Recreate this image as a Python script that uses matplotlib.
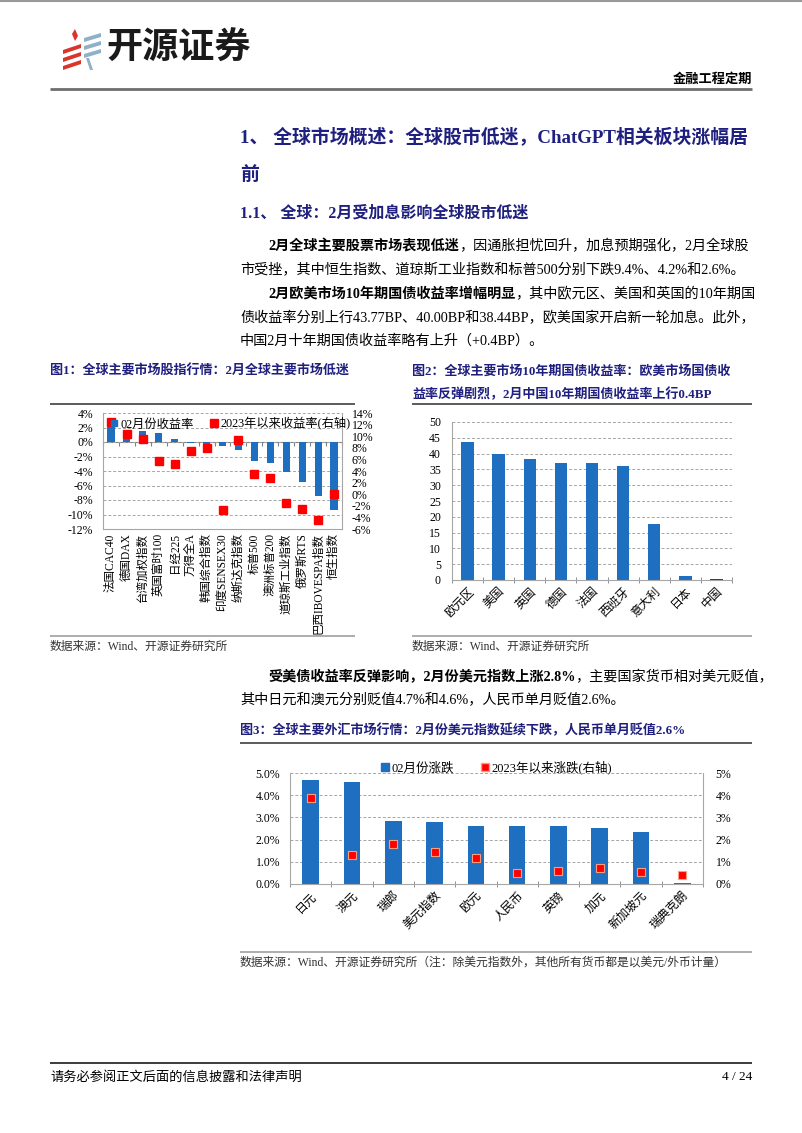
import numpy as np
import matplotlib
matplotlib.use('Agg')
import matplotlib.pyplot as plt
from matplotlib.lines import Line2D
from matplotlib.patches import Polygon
from matplotlib.ticker import FuncFormatter

plt.rcParams['font.family'] = ['Liberation Serif', 'Noto Sans CJK SC', 'DejaVu Sans']
plt.rcParams['axes.unicode_minus'] = False

W, H = 802, 1133
BLUE = '#1F6FC0'
RED = '#FF0000'
NAVY = '#1F1F7F'
GRID = '#A6A6A6'
SPINE = '#A6A6A6'

# 图1：全球主要市场股指
idx_names = ['法国CAC40', '德国DAX', '台湾加权指数', '英国富时100', '日经225', '万得全A',
             '韩国综合指数', '印度SENSEX30', '纳斯达克指数', '标普500', '澳洲标普200',
             '道琼斯工业指数', '俄罗斯RTS', '巴西IBOVESPA指数', '恒生指数']
idx_feb = [2.7, 1.6, 1.5, 1.3, 0.4, -0.1, -0.5, -0.55, -1.1, -2.6, -2.9, -4.2, -5.5, -7.5, -9.4]
idx_ytd = [12.4, 10.4, 9.6, 5.7, 5.2, 7.4, 7.9, -2.8, 9.4, 3.4, 2.8, -1.5, -2.5, -4.4, 0.0]

# 图2：10年期国债收益率变动(BP)
bond_names = ['欧元区', '美国', '英国', '德国', '法国', '西班牙', '意大利', '日本', '中国']
bond_bp = [43.77, 40.00, 38.44, 37.1, 37.1, 36.1, 17.8, 1.4, 0.4]

# 图3：主要外汇
fx_names = ['日元', '澳元', '瑞郎', '美元指数', '欧元', '人民币', '英镑', '加元', '新加坡元', '瑞典克朗']
fx_feb = [4.70, 4.61, 2.85, 2.81, 2.63, 2.61, 2.60, 2.54, 2.36, 0.06]
fx_ytd = [3.87, 1.30, 1.78, 1.45, 1.19, 0.51, 0.57, 0.73, 0.54, 0.42]


def rect(x0, y0, x1, y1):
    return [x0 / W, 1 - y1 / H, (x1 - x0) / W, (y1 - y0) / H]


fig = plt.figure(figsize=(W / 100, H / 100), dpi=100)
bg = fig.add_axes([0, 0, 1, 1], zorder=-1)
bg.set_xlim(0, W)
bg.set_ylim(H, 0)
bg.axis('off')
renderer = fig.canvas.get_renderer()


def txt(x, y, s, size, bold=False, color='black', ha='left'):
    return bg.text(x, y, s, fontsize=size, fontweight='bold' if bold else 'normal',
                   color=color, ha=ha, va='center')


def txt_after(t, y, s, size, bold=False, color='black'):
    bb = t.get_window_extent(renderer)
    x = bg.transData.inverted().transform((bb.x1, 0))[0]
    return txt(x, y, s, size, bold, color)


def hline(y, x0, x1, color='#7F7F7F', lw=1.0):
    bg.plot([x0, x1], [y, y], color=color, lw=lw, solid_capstyle='butt')


# 页眉
hline(1, 0, W, color='#9A9A9A', lw=1.5)
for k in range(3):
    yb = 46 + k * 8
    bg.add_patch(Polygon([(63, yb + 4), (81, yb - 2), (81, yb + 2), (63, yb + 8)],
                         closed=True, color='#D9352B', lw=0))
    yc = 34 + k * 8
    bg.add_patch(Polygon([(84, yc + 4), (101, yc - 1), (101, yc + 3), (84, yc + 8)],
                         closed=True, color='#8FB0C6', lw=0))
bg.add_patch(Polygon([(72, 34), (75, 29), (78, 36), (75, 41)], closed=True, color='#D9352B', lw=0))
bg.add_patch(Polygon([(86, 58), (89, 58), (93, 70), (90, 70)], closed=True, color='#8FB0C6', lw=0))
bg.text(106, 48, '开源证券', fontsize=26, fontweight='bold', color='#1A1A1A', ha='left', va='center',
        family=['Noto Sans CJK SC'])
txt(752, 79, '金融工程定期', 9.5, bold=True, ha='right')
hline(89, 50, 752, color='#6E6E6E', lw=2)

# 标题与正文
txt(240, 137, '1、 全球市场概述：全球股市低迷，ChatGPT相关板块涨幅居', 13.6, True, NAVY)
txt(240, 175, '前', 13.6, True, NAVY)
txt(240, 214, '1.1、 全球：2月受加息影响全球股市低迷', 11.5, True, NAVY)

BODY = 10.2
t = txt(268, 246, '2月全球主要股票市场表现低迷', BODY, True)
txt_after(t, 246, '，因通胀担忧回升，加息预期强化，2月全球股', BODY)
txt(240, 270, '市受挫，其中恒生指数、道琼斯工业指数和标普500分别下跌9.4%、4.2%和2.6%。', BODY)
t = txt(268, 294, '2月欧美市场10年期国债收益率增幅明显', BODY, True)
txt_after(t, 294, '，其中欧元区、美国和英国的10年期国', BODY)
txt(240, 318, '债收益率分别上行43.77BP、40.00BP和38.44BP，欧美国家开启新一轮加息。此外，', BODY)
txt(240, 341, '中国2月十年期国债收益率略有上升（+0.4BP）。', BODY)

CAP = 9.4
txt(50, 371, '图1：全球主要市场股指行情：2月全球主要市场低迷', CAP, True, NAVY)
txt(412, 371, '图2：全球主要市场10年期国债收益率：欧美市场国债收', CAP, True, NAVY)
txt(412, 394, '益率反弹剧烈，2月中国10年期国债收益率上行0.4BP', CAP, True, NAVY)
hline(404, 50, 355, color='#404040', lw=1.2)
hline(404, 412, 752, color='#404040', lw=1.2)
hline(636, 50, 355, color='#A0A0A0', lw=1.2)
hline(636, 412, 752, color='#A0A0A0', lw=1.2)
SRC = 8.5
txt(50, 647, '数据来源：Wind、开源证券研究所', SRC, color='#333333')
txt(412, 647, '数据来源：Wind、开源证券研究所', SRC, color='#333333')

t = txt(268, 677, '受美债收益率反弹影响，2月份美元指数上涨2.8%', BODY, True)
txt_after(t, 677, '，主要国家货币相对美元贬值，', BODY)
txt(240, 700, '其中日元和澳元分别贬值4.7%和4.6%，人民币单月贬值2.6%。', BODY)
txt(240, 730, '图3：全球主要外汇市场行情：2月份美元指数延续下跌，人民币单月贬值2.6%', CAP, True, NAVY)
hline(743, 240, 752, color='#404040', lw=1.2)
hline(952, 240, 752, color='#A0A0A0', lw=1.2)
txt(240, 963, '数据来源：Wind、开源证券研究所（注：除美元指数外，其他所有货币都是以美元/外币计量）', SRC,
    color='#333333')

hline(1063, 50, 752, color='#1A1A1A', lw=1.2)
txt(50, 1077, '请务必参阅正文后面的信息披露和法律声明', 9.5)
txt(752, 1077, '4 / 24', 9.5, ha='right')

pct0 = FuncFormatter(lambda v, p: f'{v:.0f}%')
pct1 = FuncFormatter(lambda v, p: f'{v:.1f}%')
TICK = 8.5
LAB = 8.3


def style_spines(ax, left=True, right=False, bottom=False):
    for side, vis in (('left', left), ('right', right), ('bottom', bottom), ('top', False)):
        ax.spines[side].set_visible(vis)
        ax.spines[side].set_color(SPINE)
        ax.spines[side].set_linewidth(0.8)


# ---- 图1 ----
ax1 = fig.add_axes(rect(103, 413, 342, 529))
x1 = np.arange(len(idx_names))
ax1.bar(x1, idx_feb, width=0.45, color=BLUE, zorder=2)
ax1.set_xlim(-0.5, len(idx_names) - 0.5)
ax1.set_ylim(-12, 4)
ax1.set_yticks(np.arange(-12, 5, 2))
ax1.yaxis.set_major_formatter(pct0)
ax1.set_xticks(x1)
ax1.set_xticklabels(idx_names, rotation=90, fontsize=LAB)
ax1.tick_params(axis='x', length=0, pad=3)
ax1.tick_params(axis='y', length=0, labelsize=TICK, pad=7)
ax1.grid(axis='y', ls=(0, (3, 2)), color=GRID, lw=0.7, zorder=0)
ax1.set_axisbelow(True)
style_spines(ax1, left=True, right=False, bottom=True)
zero_pos = (0 - (-12)) / 16
sec1 = ax1.secondary_xaxis(zero_pos)
sec1.set_xticks(np.arange(len(idx_names) + 1) - 0.5)
sec1.set_xticklabels([])
sec1.tick_params(length=3, direction='in', color='#808080')
sec1.spines['bottom'].set_color('#808080')
sec1.spines['top'].set_color('#808080')

ax1b = ax1.twinx()
ax1b.plot(x1, idx_ytd, 's', color=RED, ms=5.6, zorder=3)
ax1b.set_ylim(-6, 14)
ax1b.set_yticks(np.arange(-6, 15, 2))
ax1b.yaxis.set_major_formatter(pct0)
ax1b.tick_params(axis='y', length=0, labelsize=TICK, pad=7)
style_spines(ax1b, left=False, right=True)
h1 = [Line2D([], [], marker='s', color=BLUE, ls='none', ms=5),
      Line2D([], [], marker='s', color=RED, ls='none', ms=6)]
ax1b.legend(h1, ['02月份收益率', '2023年以来收益率(右轴)'], loc='upper left', bbox_to_anchor=(-0.015, 1.055),
            ncol=2, fontsize=8.8, frameon=False, handlelength=0.6, handletextpad=0.2, columnspacing=1.4)

# ---- 图2 ----
ax2 = fig.add_axes(rect(452, 422, 732, 580))
x2 = np.arange(len(bond_names))
bond_colors = [('#C00000' if n == '中国' else BLUE) for n in bond_names]
ax2.bar(x2, bond_bp, width=0.4, color=bond_colors, zorder=2)
ax2.set_xlim(-0.5, len(bond_names) - 0.5)
ax2.set_ylim(0, 50)
ax2.set_yticks(np.arange(0, 51, 5))
ax2.set_xticks(x2)
ax2.set_xticklabels(bond_names, rotation=45, ha='right', rotation_mode='anchor', fontsize=8.6)
ax2.set_xticks(np.arange(len(bond_names) + 1) - 0.5, minor=True)
ax2.tick_params(axis='x', which='major', length=0, pad=4)
ax2.tick_params(axis='x', which='minor', length=4, direction='inout', color='#808080')
ax2.tick_params(axis='y', length=0, labelsize=TICK, pad=8)
ax2.grid(axis='y', ls=(0, (3, 2)), color=GRID, lw=0.7, zorder=0)
ax2.set_axisbelow(True)
style_spines(ax2, left=True, bottom=True)

# ---- 图3 ----
ax3 = fig.add_axes(rect(290, 773, 703, 884))
x3 = np.arange(len(fx_names))
ax3.bar(x3, fx_feb, width=0.4, color=BLUE, zorder=2)
ax3.set_xlim(-0.5, len(fx_names) - 0.5)
ax3.set_ylim(0, 5)
ax3.set_yticks(np.arange(0, 6, 1))
ax3.yaxis.set_major_formatter(pct1)
ax3.set_xticks(x3)
ax3.set_xticklabels(fx_names, rotation=45, ha='right', rotation_mode='anchor', fontsize=8.6)
ax3.set_xticks(np.arange(len(fx_names) + 1) - 0.5, minor=True)
ax3.tick_params(axis='x', which='major', length=0, pad=4)
ax3.tick_params(axis='x', which='minor', length=4, direction='inout', color='#808080')
ax3.tick_params(axis='y', length=0, labelsize=TICK, pad=7)
ax3.grid(axis='y', ls=(0, (3, 2)), color=GRID, lw=0.7, zorder=0)
ax3.set_axisbelow(True)
style_spines(ax3, left=True, bottom=True)

ax3b = ax3.twinx()
ax3b.plot(x3, fx_ytd, 's', color=RED, mec='#FF9A7A', mew=0.8, ms=6, zorder=3)
ax3b.set_ylim(0, 5)
ax3b.set_yticks(np.arange(0, 6, 1))
ax3b.yaxis.set_major_formatter(pct0)
ax3b.tick_params(axis='y', length=0, labelsize=TICK, pad=9)
style_spines(ax3b, left=False, right=True)
h3 = [Line2D([], [], marker='s', color=BLUE, ls='none', ms=6),
      Line2D([], [], marker='s', color=RED, mec='#FF9A7A', ls='none', ms=6)]
ax3b.legend(h3, ['02月份涨跌', '2023年以来涨跌(右轴)'], loc='center', bbox_to_anchor=(0.5, 1.05),
            ncol=2, fontsize=9, frameon=False, handlelength=0.6, handletextpad=0.2, columnspacing=2.2)

fig.savefig('out.png', dpi=100)
